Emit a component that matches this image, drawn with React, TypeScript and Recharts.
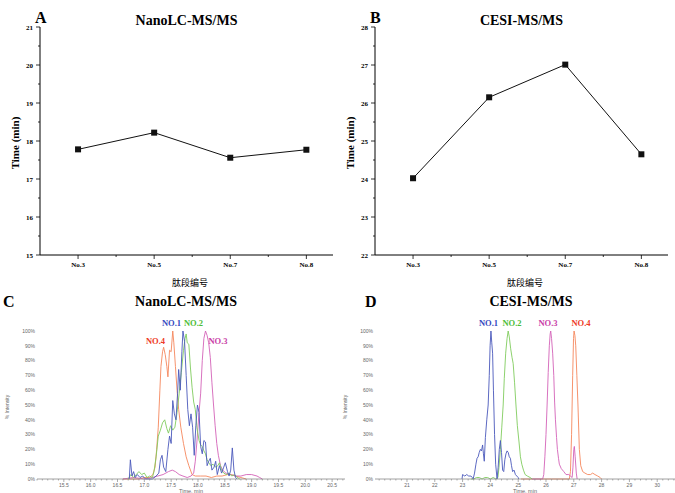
import { LineChart, Line, XAxis, YAxis } from "recharts";

const peptides = ["No.3", "No.5", "No.7", "No.8"];
const nanoLcTimes = [17.78, 18.22, 17.56, 17.77];
const cesiTimes = [24.02, 26.15, 27.01, 24.65];

const intensityTicks = [0, 10, 20, 30, 40, 50, 60, 70, 80, 90, 100];
const lcTimeLabels = [15.5, 16.0, 16.5, 17.0, 17.5, 18.0, 18.5, 19.0, 19.5, 20.0, 20.5];
const ceTimeLabels = [21, 22, 23, 24, 25, 26, 27, 28, 29, 30];

type Pt = [number, number];

// extracted ion traces, [time (min), % intensity]
const lcNo1: Pt[] = [
  [16.72, 0], [16.74, 13], [16.77, 2], [16.8, 5], [16.83, 1], [16.87, 3], [16.92, 1], [16.97, 2],
  [17.02, 0], [17.15, 0], [17.22, 2], [17.27, 4], [17.3, 13], [17.33, 16], [17.36, 8], [17.4, 5],
  [17.44, 20], [17.47, 29], [17.5, 24], [17.53, 53], [17.56, 44], [17.59, 40], [17.62, 58], [17.64, 74],
  [17.67, 60], [17.7, 86], [17.72, 100], [17.75, 93], [17.78, 70], [17.81, 47], [17.84, 36], [17.87, 44],
  [17.9, 35], [17.93, 16], [17.96, 36], [17.99, 50], [18.02, 45], [18.05, 22], [18.08, 17], [18.11, 26],
  [18.14, 25], [18.17, 9], [18.2, 12], [18.23, 14], [18.26, 6], [18.3, 8], [18.33, 12], [18.36, 3],
  [18.4, 9], [18.44, 4], [18.48, 8], [18.51, 11], [18.55, 5], [18.58, 2], [18.61, 6], [18.64, 21],
  [18.67, 6], [18.7, 1], [18.73, 0],
];
const lcNo2: Pt[] = [
  [16.7, 0], [16.75, 3], [16.8, 1], [16.85, 3], [16.9, 5], [16.95, 3], [17.0, 4], [17.05, 1],
  [17.1, 2], [17.15, 1], [17.18, 5], [17.22, 15], [17.26, 29], [17.3, 33], [17.34, 38], [17.38, 40],
  [17.42, 34], [17.45, 31], [17.49, 36], [17.53, 33], [17.57, 35], [17.61, 45], [17.65, 58], [17.69, 72],
  [17.73, 87], [17.76, 95], [17.78, 98], [17.8, 92], [17.83, 91], [17.86, 75], [17.89, 62], [17.92, 52],
  [17.95, 47], [17.98, 35], [18.02, 26], [18.05, 23], [18.08, 22], [18.11, 19], [18.14, 17], [18.17, 13],
  [18.2, 11], [18.24, 9], [18.28, 10], [18.33, 8], [18.37, 9], [18.4, 11], [18.44, 6], [18.48, 4],
  [18.53, 3], [18.58, 4], [18.63, 2], [18.68, 3], [18.73, 1], [18.78, 0],
];
const lcNo3: Pt[] = [
  [16.6, 0], [16.8, 1], [17.0, 0], [17.15, 1], [17.25, 2], [17.35, 3], [17.45, 5], [17.52, 6],
  [17.58, 5], [17.65, 3], [17.72, 2], [17.8, 1], [17.87, 2], [17.92, 4], [17.95, 12], [17.98, 25],
  [18.02, 45], [18.05, 58], [18.08, 80], [18.11, 95], [18.14, 100], [18.17, 97], [18.2, 92], [18.23, 82],
  [18.26, 65], [18.29, 50], [18.32, 36], [18.35, 24], [18.38, 16], [18.42, 9], [18.46, 6], [18.52, 4],
  [18.6, 3], [18.7, 2], [18.8, 2], [18.9, 3], [19.0, 3], [19.1, 2], [19.15, 1], [19.2, 0],
];
const lcNo4: Pt[] = [
  [16.6, 0], [16.9, 0], [17.0, 1], [17.1, 1], [17.16, 3], [17.2, 8], [17.23, 20], [17.26, 35],
  [17.29, 60], [17.31, 76], [17.34, 86], [17.36, 89], [17.39, 84], [17.42, 76], [17.44, 69], [17.47, 87],
  [17.5, 86], [17.53, 100], [17.55, 92], [17.58, 76], [17.61, 60], [17.64, 47], [17.68, 35], [17.73, 24],
  [17.78, 15], [17.83, 9], [17.89, 3], [17.95, 2], [18.05, 2], [18.15, 2], [18.25, 1], [18.35, 2],
  [18.45, 2], [18.55, 3], [18.62, 3], [18.7, 2], [18.8, 1], [18.9, 0],
];

const ceNo1: Pt[] = [
  [22.98, 0], [23.0, 3], [23.08, 2], [23.15, 3], [23.22, 2], [23.3, 2], [23.35, 1], [23.38, 0],
  [23.43, 4], [23.48, 10], [23.52, 14], [23.56, 15], [23.6, 18], [23.64, 20], [23.68, 19], [23.72, 23],
  [23.75, 17], [23.78, 12], [23.82, 28], [23.87, 40], [23.92, 50], [23.96, 70], [23.99, 90], [24.02, 100],
  [24.05, 92], [24.08, 85], [24.11, 60], [24.15, 30], [24.19, 10], [24.24, 0], [24.28, 8], [24.32, 20],
  [24.36, 26], [24.4, 18], [24.44, 6], [24.48, 5], [24.52, 13], [24.56, 17], [24.6, 19], [24.64, 18],
  [24.68, 15], [24.72, 14], [24.76, 9], [24.8, 5], [24.85, 6], [24.9, 3], [24.95, 2], [25.0, 1], [25.02, 0],
];
const ceNo2: Pt[] = [
  [23.3, 0], [23.4, 0], [23.5, 1], [23.6, 1], [23.7, 0], [23.8, 1], [23.9, 1], [24.0, 0],
  [24.1, 1], [24.2, 0], [24.27, 1], [24.31, 8], [24.36, 20], [24.41, 35], [24.46, 50], [24.5, 68],
  [24.55, 85], [24.6, 95], [24.64, 100], [24.68, 96], [24.73, 88], [24.78, 82], [24.82, 78], [24.87, 65],
  [24.92, 50], [24.97, 36], [25.03, 25], [25.08, 15], [25.13, 10], [25.19, 6], [25.25, 3], [25.33, 2],
  [25.43, 1], [25.5, 0],
];
const ceNo3: Pt[] = [
  [25.5, 0], [25.88, 0], [25.92, 3], [25.96, 15], [26.0, 30], [26.04, 50], [26.08, 72], [26.12, 90],
  [26.15, 98], [26.17, 100], [26.2, 95], [26.24, 85], [26.28, 70], [26.31, 52], [26.34, 40], [26.38, 28],
  [26.41, 20], [26.45, 14], [26.48, 10], [26.55, 7], [26.64, 5], [26.72, 3], [26.82, 3], [26.88, 2],
  [26.94, 1], [26.97, 8], [27.0, 20], [27.02, 22], [27.05, 15], [27.09, 4], [27.12, 0],
];
const ceNo4: Pt[] = [
  [25.1, 0], [25.6, 0], [26.2, 0], [26.84, 0], [26.88, 5], [26.92, 30], [26.96, 70], [26.99, 95],
  [27.01, 100], [27.04, 97], [27.07, 90], [27.11, 70], [27.15, 50], [27.2, 20], [27.25, 9], [27.32, 5],
  [27.4, 4], [27.5, 3], [27.6, 3], [27.68, 4], [27.76, 3], [27.86, 2], [27.95, 1], [28.0, 0],
];

const serif = '"Liberation Serif", "Times New Roman", serif';
const sans = '"Liberation Sans", Arial, sans-serif';

const colors = { no1: "#4a58bb", no2: "#80cc5e", no3: "#d462b8", no4: "#f5875c" };
const labelColors = { no1: "#3448c0", no2: "#4cbd38", no3: "#c93ca6", no4: "#ee3a26" };

const toRows = (pts: Pt[]) => pts.map(([t, v]) => ({ t, v }));

function CatTick({ x, y, payload }: any) {
  const v = payload.value;
  const major = Number.isInteger(v);
  return (
    <g>
      <line x1={x} x2={x} y1={y} y2={y + (major ? 4 : 2)} stroke="#000" strokeWidth={0.8} />
      {major && (
        <text x={x} y={y + 12} textAnchor="middle" fontFamily={serif} fontWeight="bold" fontSize={7} fill="#000">
          {peptides[v]}
        </text>
      )}
    </g>
  );
}

function ValTick({ x, y, payload }: any) {
  const v = payload.value;
  const major = Number.isInteger(v);
  return (
    <g>
      <line x1={x} x2={x - (major ? 4 : 2)} y1={y} y2={y} stroke="#000" strokeWidth={0.8} />
      {major && (
        <text x={x - 7} y={y + 2.5} textAnchor="end" fontFamily={serif} fontWeight="bold" fontSize={7} fill="#000">
          {v}
        </text>
      )}
    </g>
  );
}

const square = (p: any) => (
  <rect key={p.index} x={p.cx - 3} y={p.cy - 3} width={6} height={6} fill="#111" />
);

function TrendPanel({ left, letter, title, values, yDomain }: any) {
  const data = peptides.map((name, i) => ({ idx: i, name, v: values[i] }));
  const yTicks: number[] = [];
  for (let v = yDomain[0]; v <= yDomain[1]; v += 0.5) yTicks.push(v);
  return (
    <div style={{ position: "absolute", left, top: 0, width: 340, height: 295 }}>
      <LineChart width={340} height={290} data={data} margin={{ top: 27, right: 7, bottom: 5, left: 0 }}>
        <XAxis
          type="number"
          dataKey="idx"
          domain={[-0.5, 3.35]}
          ticks={[0, 0.5, 1, 1.5, 2, 2.5, 3]}
          interval={0}
          tickSize={0}
          tickMargin={0}
          tickLine={false}
          axisLine={{ stroke: "#000" }}
          height={30}
          tick={(p: any) => <CatTick {...p} />}
        />
        <YAxis
          type="number"
          domain={yDomain}
          ticks={yTicks}
          interval={0}
          tickSize={0}
          tickMargin={0}
          tickLine={false}
          axisLine={{ stroke: "#000" }}
          width={40}
          tick={(p: any) => <ValTick {...p} />}
        />
        <Line dataKey="v" type="linear" stroke="#111" strokeWidth={1} dot={square} isAnimationActive={false} />
      </LineChart>
      <div style={{ position: "absolute", left: 35, top: 10, font: `bold 16px/16px ${serif}` }}>{letter}</div>
      <div style={{ position: "absolute", left: 40, width: 293, top: 14, textAlign: "center", font: `bold 14px/14px ${serif}` }}>
        {title}
      </div>
      <div
        style={{
          position: "absolute",
          left: 15 - 40,
          top: 143 - 6,
          width: 80,
          textAlign: "center",
          transform: "rotate(-90deg)",
          font: `bold 11px/12px ${serif}`,
        }}
      >
        Time (min)
      </div>
      <div
        style={{
          position: "absolute",
          left: 40,
          width: 300,
          top: 277,
          textAlign: "center",
          font: `9px/12px "Noto Sans CJK SC", sans-serif`,
        }}
      >
        肽段编号
      </div>
    </div>
  );
}

function TimeTick({ x, y, payload, labels, digits }: any) {
  const v = payload.value;
  const major = labels.some((l: number) => Math.abs(l - v) < 1e-6);
  return (
    <g>
      <line x1={x} x2={x} y1={y} y2={y + (major ? 3 : 1.5)} stroke="#8a8a8a" strokeWidth={0.7} />
      {major && (
        <text x={x} y={y + 8} textAnchor="middle" fontFamily={sans} fontSize={5} fill="#666">
          {v.toFixed(digits)}
        </text>
      )}
    </g>
  );
}

function ChromPanel({ left, width, letter, title, domain, labels, step, digits, series, tags }: any) {
  const ticks: number[] = [];
  for (let k = Math.ceil(domain[0] / step); k * step <= domain[1]; k++) ticks.push(Math.round(k * step * 100) / 100);
  return (
    <div style={{ position: "absolute", left, top: 293, width, height: 200 }}>
      <div style={{ position: "absolute", left: 0, top: 7 }}>
        <LineChart width={width} height={193} margin={{ top: 31, right: 0, bottom: 0, left: 0 }}>
          <XAxis
            type="number"
            dataKey="t"
            domain={domain}
            allowDataOverflow
            ticks={ticks}
            interval={0}
            tickSize={0}
            tickMargin={0}
            tickLine={false}
            axisLine={{ stroke: "#8a8a8a", strokeWidth: 0.8 }}
            height={14}
            tick={(p: any) => <TimeTick {...p} labels={labels} digits={digits} />}
          />
          <YAxis
            type="number"
            domain={[0, 100]}
            ticks={intensityTicks}
            interval={0}
            tickSize={0}
            tickMargin={2}
            tickLine={false}
            axisLine={false}
            width={37}
            tick={{ fontSize: 5, fill: "#666", fontFamily: sans }}
            tickFormatter={(v: number) => `${v}%`}
          />
          {series.map((s: any) => (
            <Line
              key={s.name}
              data={toRows(s.points)}
              dataKey="v"
              type="linear"
              stroke={s.color}
              strokeWidth={0.9}
              dot={false}
              isAnimationActive={false}
            />
          ))}
        </LineChart>
      </div>
      <div style={{ position: "absolute", left: letter.x, top: 1, font: `bold 16px/16px ${serif}` }}>{letter.text}</div>
      <div style={{ position: "absolute", left: title.x - 60, width: 120, top: 2, textAlign: "center", font: `bold 14px/14px ${serif}` }}>
        {title.text}
      </div>
      {tags.map((g: any) => (
        <div
          key={g.text}
          style={{
            position: "absolute",
            left: g.x - 15,
            width: 30,
            top: g.y - 293 - 5,
            textAlign: "center",
            color: g.color,
            font: `bold 8.5px/10px ${serif}`,
          }}
        >
          {g.text}
        </div>
      ))}
      <div
        style={{
          position: "absolute",
          left: 7 - 25,
          top: 407 - 293 - 3,
          width: 50,
          textAlign: "center",
          transform: "rotate(-90deg)",
          color: "#666",
          font: `5px/6px ${sans}`,
        }}
      >
        % Intensity
      </div>
      <div
        style={{
          position: "absolute",
          left: 37,
          width: width - 37,
          top: 491 - 293 - 3,
          textAlign: "center",
          color: "#666",
          font: `5.5px/6px ${sans}`,
        }}
      >
        Time, min
      </div>
    </div>
  );
}

export default function App() {
  return (
    <div style={{ position: "absolute", left: 0, top: 0, width: 675, height: 493, overflow: "hidden", background: "#fff" }}>
      <TrendPanel left={0} letter="A" title="NanoLC-MS/MS" values={nanoLcTimes} yDomain={[15, 21]} />
      <TrendPanel left={335} letter="B" title="CESI-MS/MS" values={cesiTimes} yDomain={[22, 28]} />
      <ChromPanel
        left={0}
        width={345}
        letter={{ text: "C", x: 3 }}
        title={{ text: "NanoLC-MS/MS", x: 186 }}
        domain={[15.0, 20.74]}
        labels={lcTimeLabels}
        step={0.1}
        digits={1}
        series={[
          { name: "NO.4", points: lcNo4, color: colors.no4 },
          { name: "NO.3", points: lcNo3, color: colors.no3 },
          { name: "NO.2", points: lcNo2, color: colors.no2 },
          { name: "NO.1", points: lcNo1, color: colors.no1 },
        ]}
        tags={[
          { text: "NO.1", x: 171.5, y: 323, color: labelColors.no1 },
          { text: "NO.2", x: 193.5, y: 323, color: labelColors.no2 },
          { text: "NO.4", x: 155.5, y: 341, color: labelColors.no4 },
          { text: "NO.3", x: 218, y: 341, color: labelColors.no3 },
        ]}
      />
      <ChromPanel
        left={338}
        width={337}
        letter={{ text: "D", x: 27 }}
        title={{ text: "CESI-MS/MS", x: 193 }}
        domain={[19.85, 30.64]}
        labels={ceTimeLabels}
        step={0.2}
        digits={0}
        series={[
          { name: "NO.4", points: ceNo4, color: colors.no4 },
          { name: "NO.3", points: ceNo3, color: colors.no3 },
          { name: "NO.2", points: ceNo2, color: colors.no2 },
          { name: "NO.1", points: ceNo1, color: colors.no1 },
        ]}
        tags={[
          { text: "NO.1", x: 488.5 - 338, y: 323, color: labelColors.no1 },
          { text: "NO.2", x: 512 - 338, y: 323, color: labelColors.no2 },
          { text: "NO.3", x: 548 - 338, y: 323, color: labelColors.no3 },
          { text: "NO.4", x: 581 - 338, y: 323, color: labelColors.no4 },
        ]}
      />
    </div>
  );
}
